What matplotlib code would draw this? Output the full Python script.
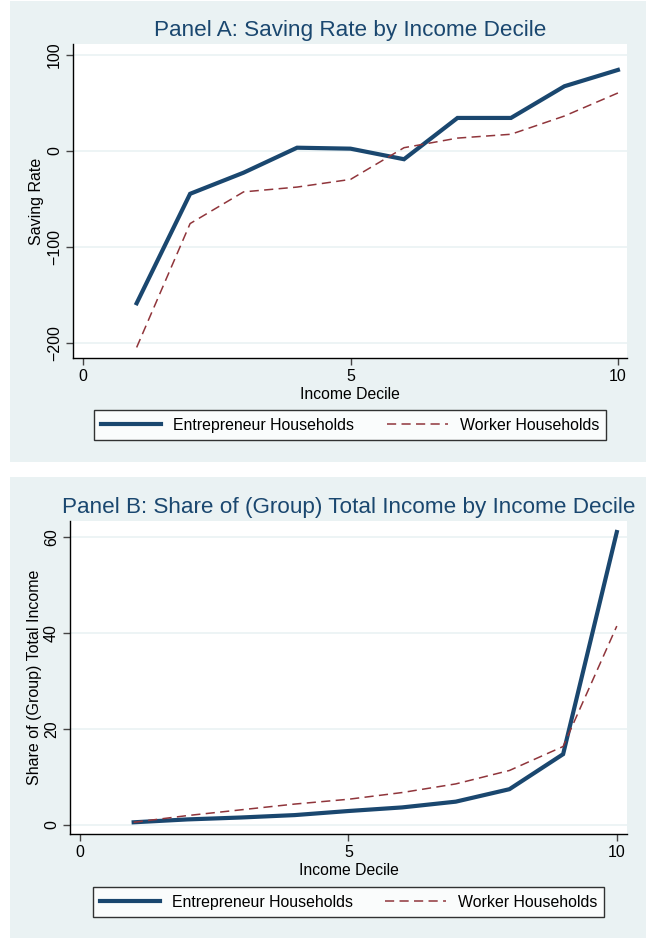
import matplotlib
matplotlib.use("Agg")
import matplotlib.pyplot as plt
from matplotlib.patches import Rectangle
from matplotlib.lines import Line2D

plt.rcParams['font.family'] = ['Liberation Sans', 'DejaVu Sans']

# Income deciles
deciles = [1, 2, 3, 4, 5, 6, 7, 8, 9, 10]

# Panel A: saving rate by decile
saving_entrepreneur = [-159, -45, -23, 3, 2, -9, 34, 34, 67, 84]
saving_worker = [-205, -76, -43, -38, -30, 3, 13, 17, 36, 60]

# Panel B: share of group total income by decile
share_entrepreneur = [0.5, 1.1, 1.5, 2.0, 2.85, 3.6, 4.8, 7.4, 14.7, 61.0]
share_worker = [0.5, 1.9, 3.1, 4.3, 5.3, 6.7, 8.5, 11.3, 16.3, 41.4]

xticks = [0, 5, 10]
yticks_a = [-200, -100, 0, 100]
yticks_b = [0, 20, 40, 60]

series_labels = ["Entrepreneur Households", "Worker Households"]
titles = ["Panel A: Saving Rate by Income Decile",
          "Panel B: Share of (Group) Total Income by Income Decile"]
ylabels = ["Saving Rate", "Share of (Group) Total Income"]
xlabel = "Income Decile"

NAVY = "#1a476f"
MAROON = "#90353b"
BG = "#eaf2f3"

W, H = 646, 938
fig = plt.figure(figsize=(W / 100, H / 100), dpi=100, facecolor="white")


def fx(px):
    return px / W


def fy(py):
    return 1 - py / H


def panel(bg_box, ax_box, leg_box, title, ylabel, ylabel_x, yvals_e, yvals_w,
          yticks, xlim, ylim):
    # light panel background
    x0, y0, x1, y1 = bg_box
    fig.patches.append(Rectangle((fx(x0), fy(y1)), fx(x1 - x0), (y1 - y0) / H,
                                 transform=fig.transFigure, facecolor=BG,
                                 edgecolor="none", zorder=-10))
    l, t, r, b = ax_box
    ax = fig.add_axes([fx(l), fy(b), fx(r - l), (b - t) / H])
    ax.set_facecolor("white")
    ax.plot(deciles, yvals_e, color=NAVY, lw=3.0, solid_joinstyle="miter",
            label=series_labels[0], zorder=3)
    ax.plot(deciles, yvals_w, color=MAROON, lw=1.1, dashes=(6, 3.5),
            label=series_labels[1], zorder=4)
    ax.set_xlim(*xlim)
    ax.set_ylim(*ylim)
    ax.set_xticks(xticks)
    ax.set_yticks(yticks)
    ax.grid(axis="y", color=BG, lw=1.2)
    ax.set_axisbelow(True)
    for s in ("top", "right"):
        ax.spines[s].set_visible(False)
    for s in ("left", "bottom"):
        ax.spines[s].set_color("black")
        ax.spines[s].set_linewidth(1.0)
    ax.tick_params(axis="both", direction="out", length=5, width=1,
                   color="#444444", labelsize=11.5, pad=3)
    for lab in ax.get_yticklabels():
        lab.set_rotation(90)
        lab.set_va("center")
    ax.set_xlabel(xlabel, fontsize=11.3, labelpad=2)
    ax.set_ylabel(ylabel, fontsize=11.5, va="center")
    ax.yaxis.set_label_coords((ylabel_x - l) / (r - l), 0.5)
    ax.set_title(title, fontsize=16.2, color=NAVY, pad=6)

    lx0, lt, lx1, lb = leg_box
    handles = [Line2D([], [], color=NAVY, lw=3.0),
               Line2D([], [], color=MAROON, lw=1.1, dashes=(6, 3.5))]
    leg = fig.legend(handles, series_labels, ncol=2, loc="center",
                     bbox_to_anchor=(fx(lx0), fy(lb), fx(lx1 - lx0), (lb - lt) / H),
                     mode="expand", fontsize=11.4, frameon=True, fancybox=False,
                     handlelength=3.8, handletextpad=0.75, borderpad=0.45,
                     borderaxespad=0, columnspacing=1.8)
    fr = leg.get_frame()
    fr.set_edgecolor("black")
    fr.set_linewidth(1.0)
    fr.set_facecolor("white")
    return ax


panel((10, 1, 646, 462), (73, 44, 627, 358), (94, 410, 606, 440),
      titles[0], ylabels[0], 37, saving_entrepreneur, saving_worker, yticks_a,
      (-0.19, 10.17), (-216, 111))

panel((10, 477, 646, 938), (70, 521, 627, 834), (93, 887, 604, 917),
      titles[1], ylabels[1], 35, share_entrepreneur, share_worker, yticks_b,
      (-0.186, 10.19), (-1.94, 63.3))

fig.savefig("out.png", dpi=100, facecolor="white")
